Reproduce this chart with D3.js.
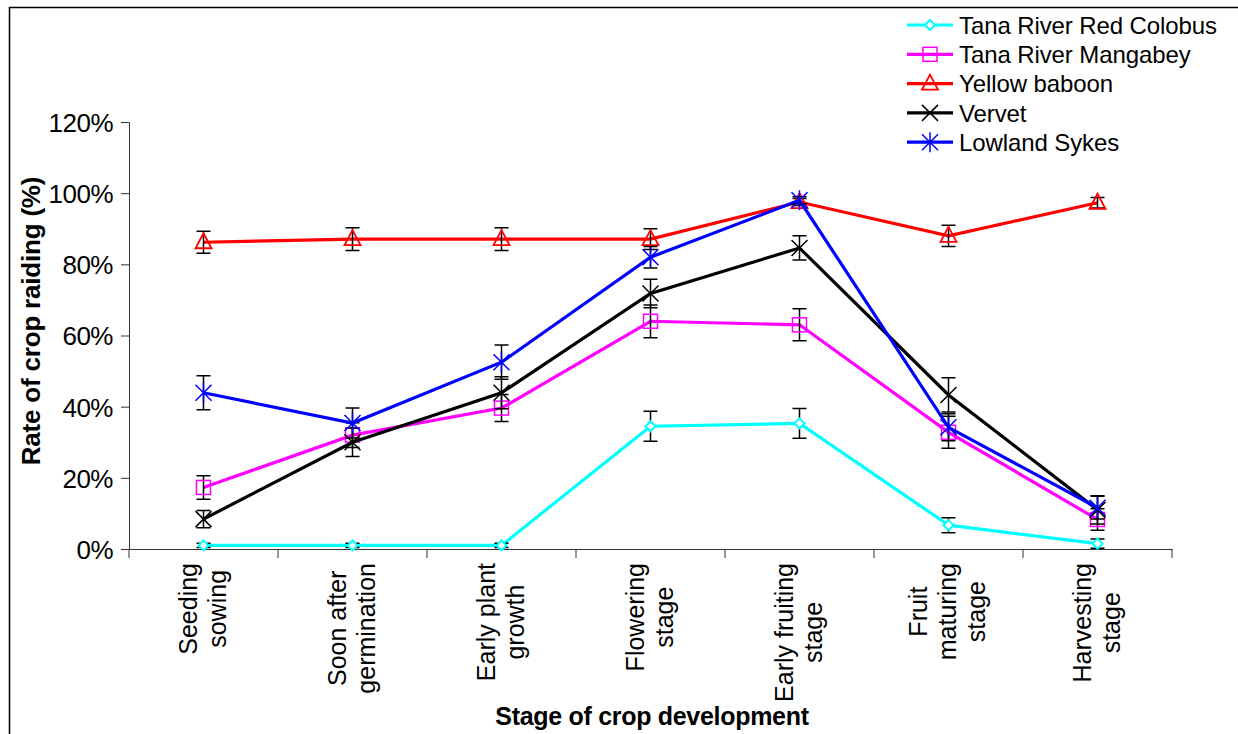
<!DOCTYPE html>
<html>
<head>
<meta charset="utf-8">
<script src="https://cdn.jsdelivr.net/npm/d3@7"></script>
<style>
  body { margin: 0; background: #fff; }
  svg { display: block; font-family: "Liberation Sans", Arial, sans-serif; }
</style>
</head>
<body>
<svg id="chart" width="1238" height="734"></svg>
<script>
// stages of crop development (x categories)
const stages = ['Seeding sowing', 'Soon after germination', 'Early plant growth',
  'Flowering stage', 'Early fruiting stage', 'Fruit maturing stage', 'Harvesting stage'];
const stageLines = [['Seeding', 'sowing'], ['Soon after', 'germination'], ['Early plant', 'growth'],
  ['Flowering', 'stage'], ['Early fruiting', 'stage'], ['Fruit', 'maturing', 'stage'], ['Harvesting', 'stage']];

const yTicks = [0, 20, 40, 60, 80, 100, 120];

// rate of crop raiding (%) and error (+/-) per stage
const colobus = [1, 1, 1, 34.5, 35.3, 6.7, 1.5];
const colobusErr = [0.6, 0.6, 0.6, 4.2, 4.2, 2.1, 1.3];
const mangabey = [17.3, 32, 39.6, 64, 63, 32.8, 8.3];
const mangabeyErr = [3.3, 3.5, 3.8, 4.6, 4.5, 4.5, 3];
const baboon = [86.2, 87.1, 87.1, 87.1, 97.5, 88, 97.3];
const baboonErr = [3.1, 3.2, 3.2, 2.9, 1, 3, 1.5];
const vervet = [8.4, 30, 43.9, 71.8, 84.6, 43.3, 11];
const vervetErr = [2.4, 4, 4.5, 4, 3.4, 4.8, 4];
const sykes = [43.9, 35.4, 52.5, 82, 98, 34.2, 11.6];
const sykesErr = [4.8, 4.2, 4.8, 3, 1, 3.8, 3.2];

const series = [
  { name: 'Tana River Red Colobus', color: '#00ffff', values: colobus, err: colobusErr, marker: 'diamond' },
  { name: 'Tana River Mangabey', color: '#ff00ff', values: mangabey, err: mangabeyErr, marker: 'square' },
  { name: 'Yellow baboon', color: '#ff0000', values: baboon, err: baboonErr, marker: 'triangle' },
  { name: 'Vervet', color: '#000000', values: vervet, err: vervetErr, marker: 'cross' },
  { name: 'Lowland Sykes', color: '#0000ff', values: sykes, err: sykesErr, marker: 'star' },
];

const svg = d3.select('#chart');
const margin = { top: 122, right: 66, bottom: 185, left: 129 };
const width = 1238 - margin.left - margin.right;
const height = 734 - margin.top - margin.bottom;

// outer frame
svg.append('rect')
  .attr('x', 9.5).attr('y', 7.5).attr('width', 1240).attr('height', 740)
  .attr('fill', 'none').attr('stroke', '#000').attr('stroke-width', 1.5);

const g = svg.append('g').attr('transform', `translate(${margin.left},${margin.top})`);

const x = d3.scaleBand().domain(stages).range([0, width]);
const y = d3.scaleLinear().domain([0, 120]).range([height, 0]);

// axes
const yAxis = g.append('g')
  .call(d3.axisLeft(y).tickValues(yTicks).tickSize(8).tickPadding(8).tickFormat(d => d + '%'));
yAxis.selectAll('text').attr('font-size', 26).attr('fill', '#000').attr('dy', '0.36em')
  .attr('letter-spacing', -0.5);
yAxis.select('.domain').attr('stroke', '#333');
yAxis.selectAll('.tick line').attr('stroke', '#333');

const xAxis = g.append('g').attr('transform', `translate(0,${height})`)
  .call(d3.axisBottom(x).tickSize(0).tickFormat(''));
xAxis.select('.domain').attr('stroke', '#333');
xAxis.selectAll('.bound')
  .data(d3.range(stages.length + 1))
  .join('line')
  .attr('x1', i => i * x.bandwidth()).attr('x2', i => i * x.bandwidth())
  .attr('y1', 0).attr('y2', 9).attr('stroke', '#333');

// rotated category labels
stages.forEach((s, i) => {
  const lines = stageLines[i];
  const lg = g.append('g')
    .attr('transform', `translate(${x(s) + x.bandwidth() / 2 - 1},${height + 14}) rotate(-90)`);
  const texts = lg.selectAll('text').data(lines).join('text')
    .attr('font-size', 25)
    .attr('text-anchor', 'middle')
    .attr('dy', '0.35em')
    .attr('y', (d, j) => (j - (lines.length - 1) / 2) * 29)
    .text(d => d);
  const L = d3.max(texts.nodes(), n => n.getComputedTextLength());
  texts.attr('x', -L / 2);
});

// axis titles
g.append('text')
  .attr('x', 652 - margin.left).attr('y', height + 176)
  .attr('text-anchor', 'middle').attr('font-size', 25).attr('font-weight', 'bold')
  .attr('letter-spacing', -0.3)
  .text('Stage of crop development');

svg.append('text')
  .attr('transform', 'translate(40,321) rotate(-90)')
  .attr('text-anchor', 'middle').attr('font-size', 26).attr('font-weight', 'bold')
  .attr('letter-spacing', -0.2)
  .text('Rate of crop raiding (%)');

function drawMarker(sel, type, color) {
  if (type === 'diamond') {
    sel.append('path').attr('d', 'M0,-5L5,0L0,5L-5,0Z')
      .attr('fill', '#fff').attr('stroke', color).attr('stroke-width', 2);
  } else if (type === 'square') {
    sel.append('rect').attr('x', -7).attr('y', -7).attr('width', 14).attr('height', 14)
      .attr('fill', 'none').attr('stroke', color).attr('stroke-width', 1.5);
  } else if (type === 'triangle') {
    sel.append('path').attr('d', 'M0,-9L8,6L-8,6Z')
      .attr('fill', 'none').attr('stroke', color).attr('stroke-width', 1.8);
  } else if (type === 'cross') {
    sel.append('path').attr('d', 'M-8,-8L8,8M-8,8L8,-8')
      .attr('stroke', color).attr('stroke-width', 1.5);
  } else if (type === 'star') {
    sel.append('path').attr('d', 'M-8,-8L8,8M-8,8L8,-8M0,-10L0,10')
      .attr('stroke', color).attr('stroke-width', 1.5);
  }
}

const line = d3.line()
  .x((d, i) => x(stages[i]) + x.bandwidth() / 2)
  .y(d => y(d));

series.forEach(s => {
  const sg = g.append('g');
  sg.append('path')
    .attr('d', line(s.values))
    .attr('fill', 'none').attr('stroke', s.color).attr('stroke-width', 3.2);

  s.values.forEach((v, i) => {
    const cx = x(stages[i]) + x.bandwidth() / 2;
    const y0 = y(v + s.err[i]);
    const y1 = y(v - s.err[i]);
    sg.append('path')
      .attr('d', `M${cx},${y0}L${cx},${y1}M${cx - 7},${y0}L${cx + 7},${y0}M${cx - 7},${y1}L${cx + 7},${y1}`)
      .attr('stroke', '#000').attr('stroke-width', 1.5).attr('fill', 'none');
  });

  s.values.forEach((v, i) => {
    const mg = sg.append('g')
      .attr('transform', `translate(${x(stages[i]) + x.bandwidth() / 2},${y(v)})`);
    drawMarker(mg, s.marker, s.color);
  });
});

// legend
const legend = svg.append('g').attr('transform', 'translate(907,25)');
series.forEach((s, i) => {
  const row = legend.append('g').attr('transform', `translate(0,${i * 29.3})`);
  row.append('line').attr('x1', 0).attr('x2', 46).attr('y1', 0).attr('y2', 0)
    .attr('stroke', s.color).attr('stroke-width', 3.2);
  const mg = row.append('g').attr('transform', 'translate(23,0)');
  drawMarker(mg, s.marker, s.color);
  row.append('text').attr('x', 52).attr('dy', '0.36em')
    .attr('font-size', 24).attr('letter-spacing', -0.1)
    .text(s.name);
});
</script>
</body>
</html>
